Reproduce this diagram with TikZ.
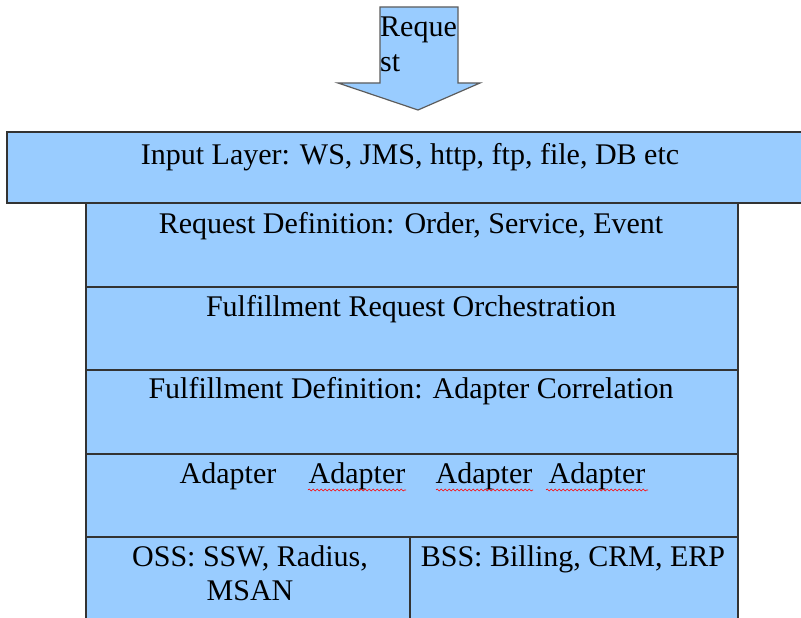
\documentclass[tikz,border=0pt]{standalone}
\usepackage{fontspec}
\newfontfamily\tnr{Liberation Serif}
\usetikzlibrary{decorations.pathmorphing}
\definecolor{layerblue}{HTML}{99CCFF}
\definecolor{edgegray}{HTML}{333333}
\begin{document}
\begin{tikzpicture}[x=1pt,y=-1pt,
  layer/.style={fill=layerblue,draw=edgegray,line width=1.3pt},
  txt/.style={anchor=base,inner sep=0pt,font=\tnr\fontsize{30}{35}\selectfont},
  wavy/.style={draw=red,line width=0.6pt,decorate,decoration={snake,segment length=4pt,amplitude=1pt}}]
\useasboundingbox (0,0) rectangle (801,618);
% arrow
\draw[fill=layerblue,draw=edgegray!80,line width=1.2pt] (380,7) -- (458,7) -- (458,83) -- (480,83) -- (418,110) -- (338,83) -- (380,83) -- cycle;
\node[txt,anchor=base west] (req1) at (380,37) {Reque};
\node[txt,anchor=base west] (req2) at (380,72) {st};
% input layer
\draw[layer] (7,132) rectangle (806,203);
\node[txt] (input) at (410,164) {Input Layer: WS, JMS, http, ftp, file, DB etc};
% stack
\draw[layer] (86,203) rectangle (738,287);
\node[txt] (reqdef) at (411,233) {Request Definition: Order, Service, Event};
\draw[layer] (86,287) rectangle (738,370);
\node[txt] (orch) at (411,316) {Fulfillment Request Orchestration};
\draw[layer] (86,370) rectangle (738,454);
\node[txt] (fdef) at (411,398) {Fulfillment Definition: Adapter Correlation};
\draw[layer] (86,454) rectangle (738,537);
\draw[draw=edgegray,line width=2.6pt] (86,454) -- (738,454);
\node[txt] (ad1) at (228,483) {Adapter};
\node[txt] (ad2) at (357,483) {Adapter};
\node[txt] (ad3) at (484,483) {Adapter};
\node[txt] (ad4) at (597,483) {Adapter};
\draw[wavy] (308,490) -- (406,490);
\draw[wavy] (436,490) -- (533,490);
\draw[wavy] (546,490) -- (648,490);
\draw[layer] (86,537) rectangle (410,625);
\draw[layer] (410,537) rectangle (738,625);
\node[txt] (oss1) at (250,566) {OSS: SSW, Radius,};
\node[txt] (oss2) at (250,600) {MSAN};
\node[txt] (bss) at (573,566) {BSS: Billing, CRM, ERP};
\end{tikzpicture}
\end{document}
